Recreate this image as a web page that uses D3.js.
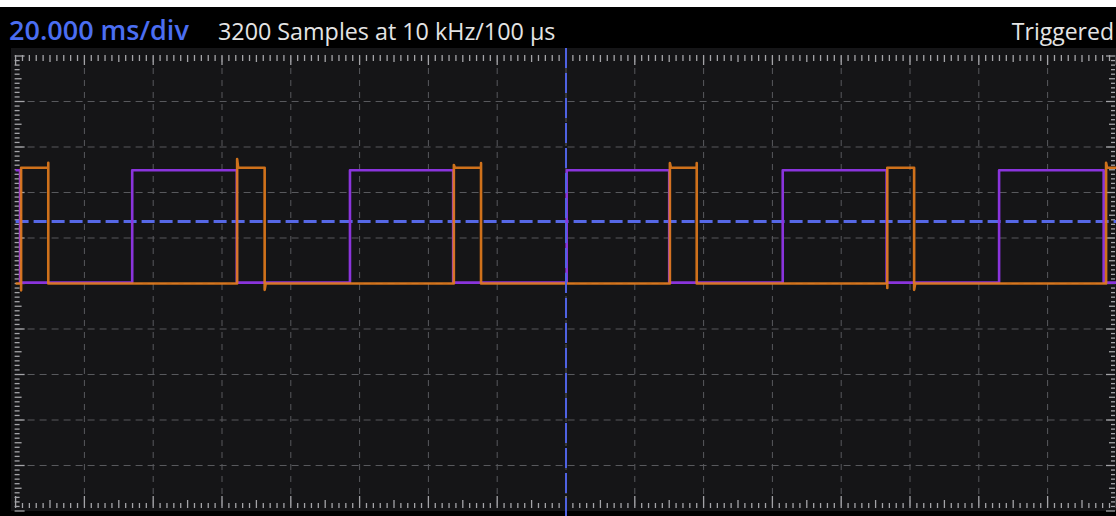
<!DOCTYPE html>
<html>
<head>
<meta charset="utf-8">
<script src="https://cdn.jsdelivr.net/npm/d3@7"></script>
<style>
  body { margin:0; background:#fff; overflow:hidden; }
  svg { display:block; }
  text { font-family: "Open Sans", "Noto Sans", sans-serif; }
</style>
</head>
<body>
<svg id="scope" width="1116" height="516"></svg>
<script>
// tempo em ms (20 ms/div, 16 div), amplitude em divisoes
var timeDomain = [-160, 160];
var divDomain = [-5, 5];

var headerTimebase = "20.000 ms/div";
var headerSamples = "3200 Samples at 10 kHz/100 μs";
var headerStatus = "Triggered";

var orangeLevels = [0.0, 2.545];
var orangeRise = [-158.4, -95.6, -32.6, 30.2, 93.4, 157.0];
var orangeFall = [-150.5, -87.6, -24.7, 38.0, 101.2];
var orangeRiseGlitch = [-0.15, 0.19, 0.06, 0.1, -0.1, 0.11];
var orangeFallGlitch = [0.11, -0.14, 0.1, 0.1, -0.14];

var purpleLevels = [0.02, 2.49];
var purpleRise = [-126.1, -62.8, 0.2, 63.0, 125.9];
var purpleFall = [-158.7, -95.7, -32.8, 30.0, 93.2, 156.3];

var triggerTime = 0;
var triggerLevel = 1.36;

var svg = d3.select("#scope");
var W = 1116, H = 516;
var plot = {left: 15.6, right: 1116.4, top: 56, bottom: 511};

var x = d3.scaleLinear().domain(timeDomain).range([plot.left, plot.right]);
var y = d3.scaleLinear().domain(divDomain).range([plot.bottom, plot.top]);

// fundo
svg.append("rect").attr("x", 0).attr("y", 7).attr("width", W).attr("height", H - 7).attr("fill", "#000");
svg.append("rect").attr("x", 11).attr("y", 48).attr("width", W - 11).attr("height", 463).attr("fill", "#151517");

// cabecalho
svg.append("text").attr("x", 9).attr("y", 40)
    .style("font-size", "27px").style("font-weight", "600").style("fill", "#4b6ef2")
    .text(headerTimebase);
svg.append("text").attr("x", 218).attr("y", 40)
    .style("font-size", "23.3px").style("fill", "#e4e4e4")
    .text(headerSamples);
svg.append("text").attr("x", 1114).attr("y", 40).attr("text-anchor", "end")
    .style("font-size", "23px").style("fill", "#e4e4e4")
    .text(headerStatus);

// grade
var vGrid = d3.range(timeDomain[0] + 20, timeDomain[1], 20);
var hGrid = d3.range(divDomain[0] + 1, divDomain[1], 1);

var grid = svg.append("g").attr("class", "grid");
grid.selectAll("line.v").data(vGrid).enter().append("line")
    .attr("x1", d => x(d)).attr("x2", d => x(d))
    .attr("y1", plot.top).attr("y2", plot.bottom)
    .attr("stroke", "#58595d").attr("stroke-width", 1).attr("stroke-dasharray", "6,6");
grid.selectAll("line.h").data(hGrid).enter().append("line")
    .attr("y1", d => y(d)).attr("y2", d => y(d))
    .attr("x1", plot.left).attr("x2", plot.right)
    .attr("stroke", "#58595d").attr("stroke-width", 1).attr("stroke-dasharray", "7,5");

// reguas (10 subdivisoes por divisao)
function tickLen(i, major, mid, minor) {
    if (i % 10 === 0) return major;
    if (i % 5 === 0) return mid;
    return minor;
}
var tTicks = d3.range(0, 161).map(i => ({v: timeDomain[0] + i * 2, i: i}));
var aTicks = d3.range(0, 101).map(i => ({v: divDomain[0] + i * 0.1, i: i}));
var ruler = svg.append("g").attr("stroke", "#a4a4a8").attr("stroke-width", 1.3);

ruler.selectAll("line.top").data(tTicks).enter().append("line")
    .attr("x1", d => x(d.v)).attr("x2", d => x(d.v))
    .attr("y1", plot.top - 1).attr("y2", d => plot.top - 1 + tickLen(d.i, 10, 7, 6));
ruler.selectAll("line.bot").data(tTicks).enter().append("line")
    .attr("x1", d => x(d.v)).attr("x2", d => x(d.v))
    .attr("y1", plot.bottom - 3).attr("y2", d => plot.bottom - 3 - tickLen(d.i, 12, 8, 5));
ruler.selectAll("line.left").data(aTicks).enter().append("line")
    .attr("y1", d => y(d.v)).attr("y2", d => y(d.v))
    .attr("x1", plot.left - 1).attr("x2", d => plot.left - 1 + tickLen(d.i, 10, 7, 5));
ruler.selectAll("line.right").data(aTicks).enter().append("line")
    .attr("y1", d => y(d.v)).attr("y2", d => y(d.v))
    .attr("x1", W - 1).attr("x2", d => W - 1 - tickLen(d.i, 9, 6, 4));

// nivel de trigger
svg.append("line")
    .attr("x1", plot.left).attr("x2", W)
    .attr("y1", y(triggerLevel)).attr("y2", y(triggerLevel))
    .attr("stroke", "#5668e6").attr("stroke-width", 3).attr("stroke-dasharray", "13,5");

// monta o traco a partir das bordas
function buildTrace(levels, rises, falls, riseGl, fallGl) {
    var edges = [];
    rises.forEach((t, i) => edges.push({t: t, up: true, g: riseGl ? riseGl[i] : 0}));
    falls.forEach((t, i) => edges.push({t: t, up: false, g: fallGl ? fallGl[i] : 0}));
    edges.sort((a, b) => a.t - b.t);

    var cur = edges[0].up ? levels[0] : levels[1];
    var pts = [[timeDomain[0], cur]];
    edges.forEach(e => {
        var next = e.up ? levels[1] : levels[0];
        pts.push([e.t, cur]);
        if (e.g !== 0) {
            var ext = e.g > 0 ? Math.max(cur, next) + e.g : Math.min(cur, next) + e.g;
            var newSide = (e.g > 0) === e.up;
            pts.push([e.t, ext]);
            pts.push([newSide ? e.t + 0.3 : e.t, next]);
        } else {
            pts.push([e.t, next]);
        }
        cur = next;
    });
    pts.push([timeDomain[1], cur]);
    return pts;
}

var line = d3.line().x(d => x(d[0])).y(d => y(d[1]));

var purple = buildTrace(purpleLevels, purpleRise, purpleFall);
var orange = buildTrace(orangeLevels, orangeRise, orangeFall, orangeRiseGlitch, orangeFallGlitch);

svg.append("path").datum(purple).attr("d", line)
    .attr("fill", "none").attr("stroke", "#8a34dc").attr("stroke-width", 2.6)
    .attr("stroke-linejoin", "round");
svg.append("path").datum(orange).attr("d", line)
    .attr("fill", "none").attr("stroke", "#e07a1c").attr("stroke-width", 2.6)
    .attr("stroke-opacity", 0.92).attr("stroke-linejoin", "round");

// tempo de trigger
svg.append("line")
    .attr("x1", x(triggerTime)).attr("x2", x(triggerTime))
    .attr("y1", 48).attr("y2", H)
    .attr("stroke", "#4f62e2").attr("stroke-width", 2).attr("stroke-dasharray", "20,5");
</script>
</body>
</html>
